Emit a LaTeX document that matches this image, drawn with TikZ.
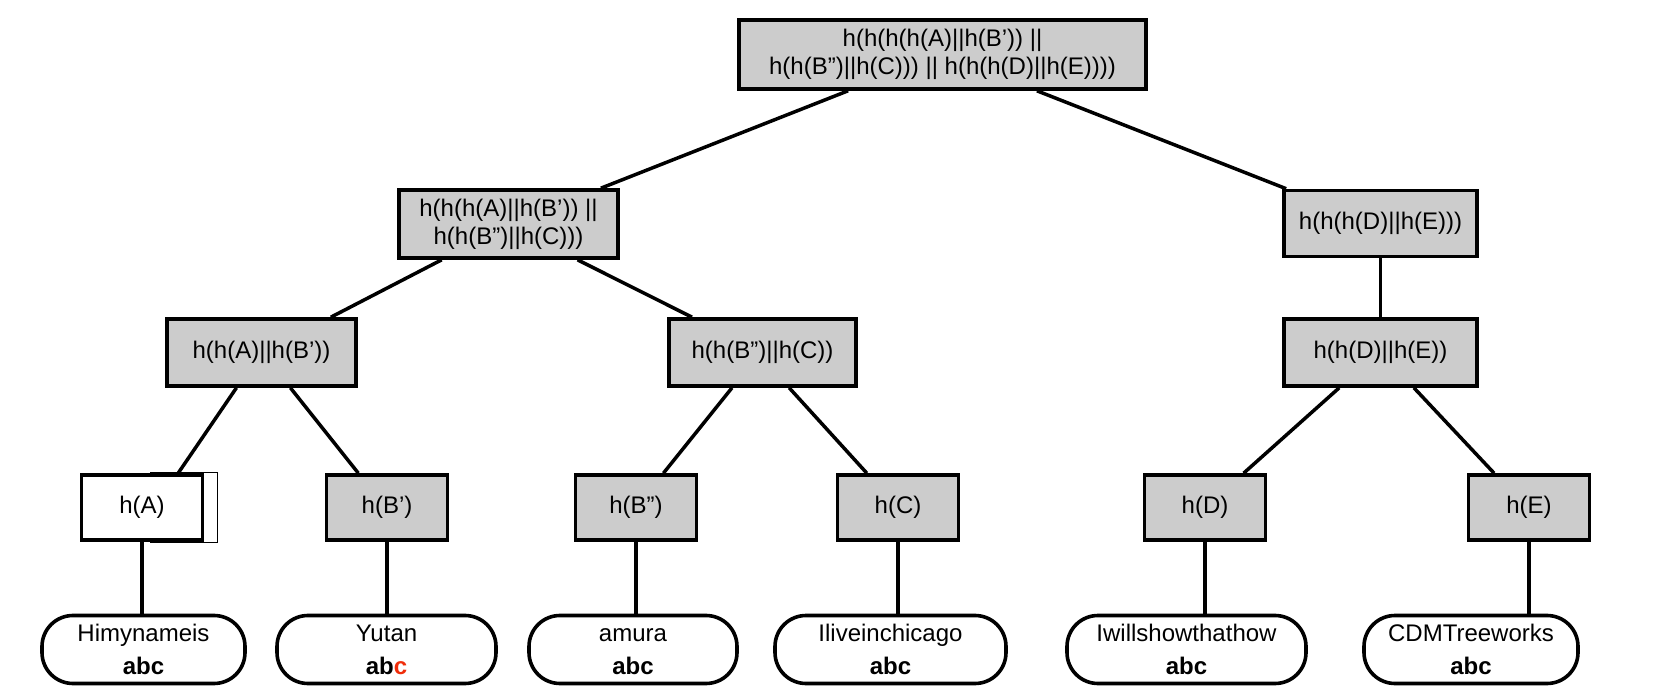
\documentclass[tikz,border=0pt]{standalone}
\usepackage{fontspec}
\setmainfont{Liberation Sans}
\usetikzlibrary{calc}
\definecolor{boxgray}{RGB}{204,204,204}
\definecolor{hred}{RGB}{240,45,10}
\tikzset{
  hbox/.style={draw, line width=3.6pt, fill=boxgray, inner sep=0pt, align=center,
    font=\fontsize{24}{28}\selectfont, minimum height=69pt},
  leafbox/.style={draw, line width=3.6pt, fill=white, rounded corners=31pt, inner sep=0pt,
    align=center, font=\fontsize{24}{33}\selectfont, minimum height=68pt},
  conn/.style={line width=3.5pt},
}
\newcommand{\fl}{\vphantom{Iy}}
\begin{document}
\begin{tikzpicture}[x=1pt,y=-1pt]
\useasboundingbox (0,0) rectangle (1674,700);
% extra white rectangle behind h(A)
\draw[line width=1pt, fill=white] (150,473) rectangle (217,542);
% nodes
\node[hbox, minimum width=407pt, minimum height=69pt] (root) at (942.5,54.5) {h(h(h(h(A)||h(B’)) ||\\h(h(B”)||h(C))) || h(h(h(D)||h(E))))};
\node[hbox, minimum width=219pt, minimum height=68pt] (L) at (508.5,224) {h(h(h(A)||h(B’)) ||\\h(h(B”)||h(C)))};
\node[hbox, minimum width=193pt, minimum height=66pt] (R) at (1380.5,223.5) {h(h(h(D)||h(E)))};
\node[hbox, minimum width=189pt, minimum height=67pt] (LL) at (261.5,352.5) {h(h(A)||h(B’))};
\node[hbox, minimum width=187pt, minimum height=67pt] (LR) at (762.5,352.5) {h(h(B”)||h(C))};
\node[hbox, minimum width=193pt, minimum height=67pt] (RR) at (1380.5,352.5) {h(h(D)||h(E))};
\node[hbox, fill=white, minimum width=121pt, minimum height=65pt] (hA) at (142,507.5) {h(A)};
\node[hbox, minimum width=121pt, minimum height=65pt] (hB1) at (387,507.5) {h(B’)};
\node[hbox, minimum width=121pt, minimum height=65pt] (hB2) at (636,507.5) {h(B”)};
\node[hbox, minimum width=121pt, minimum height=65pt] (hC) at (898,507.5) {h(C)};
\node[hbox, minimum width=121pt, minimum height=65pt] (hD) at (1205,507.5) {h(D)};
\node[hbox, minimum width=121pt, minimum height=65pt] (hE) at (1529,507.5) {h(E)};
% leaves
\node[leafbox, minimum width=203pt] (lA) at (143.5,649.5) {\fl Himynameis\\\textbf{abc}};
\node[leafbox, minimum width=219pt] (lB1) at (386.5,649.5) {\fl Yutan\\\textbf{ab\textcolor{hred}{c}}};
\node[leafbox, minimum width=208pt] (lB2) at (633,649.5) {\fl amura\\\textbf{abc}};
\node[leafbox, minimum width=231pt] (lC) at (890.5,649.5) {\fl Iliveinchicago\\\textbf{abc}};
\node[leafbox, minimum width=239pt] (lD) at (1186.5,649.5) {\fl Iwillshowthathow\\\textbf{abc}};
\node[leafbox, minimum width=214pt] (lE) at (1471,649.5) {\fl CDMTreeworks\\\textbf{abc}};
% connectors
\draw[conn] ($(root.south west)!0.27!(root.south east)$) -- ($(L.north west)!0.915!(L.north east)$);
\draw[conn] ($(root.south west)!0.73!(root.south east)$) -- ($(R.north west)!0.02!(R.north east)$);
\draw[conn] ($(L.south west)!0.2!(L.south east)$) -- ($(LL.north west)!0.86!(LL.north east)$);
\draw[conn] ($(L.south west)!0.81!(L.south east)$) -- ($(LR.north west)!0.13!(LR.north east)$);
\draw[conn] (R.south) -- (RR.north);
\draw[conn] ($(LL.south west)!0.37!(LL.south east)$) -- ($(hA.north west)!0.79!(hA.north east)$);
\draw[conn] ($(LL.south west)!0.65!(LL.south east)$) -- ($(hB1.north west)!0.27!(hB1.north east)$);
\draw[conn] ($(LR.south west)!0.34!(LR.south east)$) -- ($(hB2.north west)!0.72!(hB2.north east)$);
\draw[conn] ($(LR.south west)!0.64!(LR.south east)$) -- ($(hC.north west)!0.25!(hC.north east)$);
\draw[conn] ($(RR.south west)!0.29!(RR.south east)$) -- ($(hD.north west)!0.81!(hD.north east)$);
\draw[conn] ($(RR.south west)!0.67!(RR.south east)$) -- ($(hE.north west)!0.22!(hE.north east)$);
\draw[conn] (hA.south) -- (hA.south |- lA.north);
\draw[conn] (hB1.south) -- (hB1.south |- lB1.north);
\draw[conn] (hB2.south) -- (hB2.south |- lB2.north);
\draw[conn] (hC.south) -- (hC.south |- lC.north);
\draw[conn] (hD.south) -- (hD.south |- lD.north);
\draw[conn] (hE.south) -- (hE.south |- lE.north);
\end{tikzpicture}
\end{document}
